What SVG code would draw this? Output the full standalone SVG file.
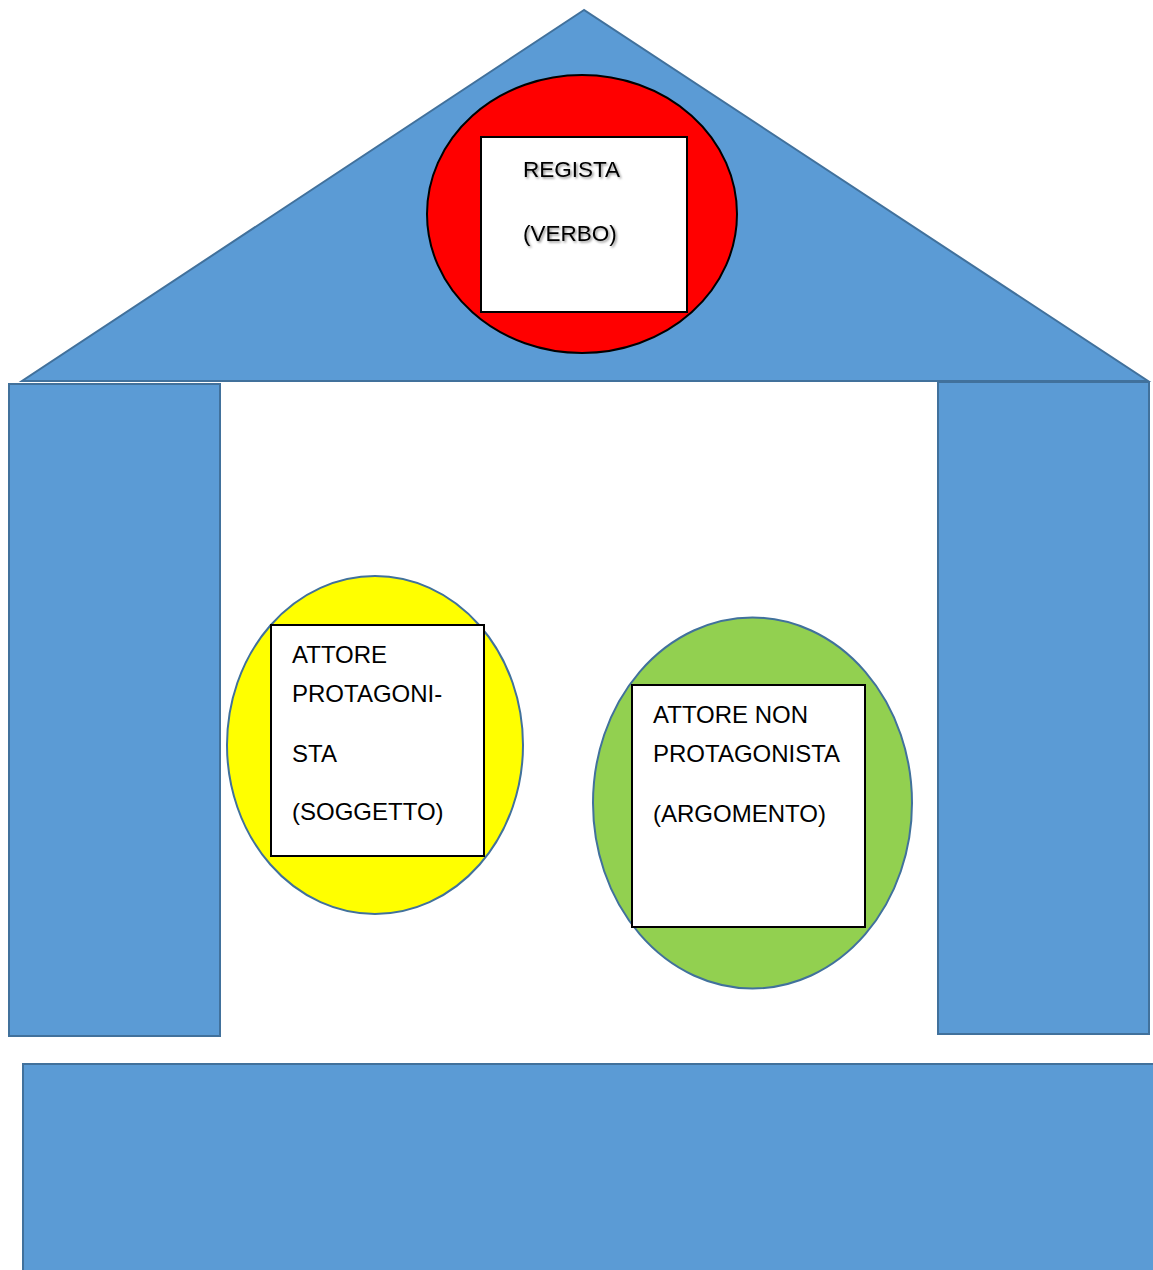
<svg xmlns="http://www.w3.org/2000/svg" width="1153" height="1270" viewBox="0 0 1153 1270">
<style>
.blue{fill:#5B9BD5;stroke:#41719C;stroke-width:2}
.box{fill:#ffffff;stroke:#000000;stroke-width:2}
.t{font-family:"Liberation Sans",Arial,sans-serif;font-size:24px;fill:#000}
.r{font-size:22.5px}
</style>
<defs>
<filter id="sh" x="-10%" y="-30%" width="130%" height="170%">
<feDropShadow dx="1.5" dy="1.5" stdDeviation="1" flood-color="#000" flood-opacity="0.45"/>
</filter>
</defs>
<rect width="1153" height="1270" fill="#ffffff"/>
<g id="roof"><polygon class="blue" points="584,10 22,381 1148,381"/></g>
<g id="pillar-left"><rect class="blue" x="9" y="384" width="211" height="652"/></g>
<g id="pillar-right"><rect class="blue" x="938" y="382" width="211" height="652"/></g>
<g id="base"><rect class="blue" x="23" y="1064" width="1140" height="220"/></g>
<g id="regista">
<ellipse cx="582" cy="214" rx="155" ry="139" fill="#FF0000" stroke="#000" stroke-width="2"/>
<rect class="box" x="481" y="137" width="206" height="175"/>
<text class="t r" x="523" y="177" filter="url(#sh)">REGISTA</text>
<text class="t r" x="523" y="241" filter="url(#sh)">(VERBO)</text>
</g>
<g id="soggetto">
<ellipse cx="375" cy="745" rx="148" ry="169" fill="#FFFF00" stroke="#41719C" stroke-width="2"/>
<rect class="box" x="271" y="625" width="213" height="231"/>
<text class="t" x="292" y="663">ATTORE</text>
<text class="t" x="292" y="702">PROTAGONI-</text>
<text class="t" x="292" y="762">STA</text>
<text class="t" x="292" y="820">(SOGGETTO)</text>
</g>
<g id="argomento">
<ellipse cx="752.5" cy="803" rx="159.5" ry="185.5" fill="#92D050" stroke="#41719C" stroke-width="2"/>
<rect class="box" x="632" y="685" width="233" height="242"/>
<text class="t" x="653" y="723">ATTORE NON</text>
<text class="t" x="653" y="762">PROTAGONISTA</text>
<text class="t" x="653" y="822">(ARGOMENTO)</text>
</g>
<g id="connectors"/>
</svg>
